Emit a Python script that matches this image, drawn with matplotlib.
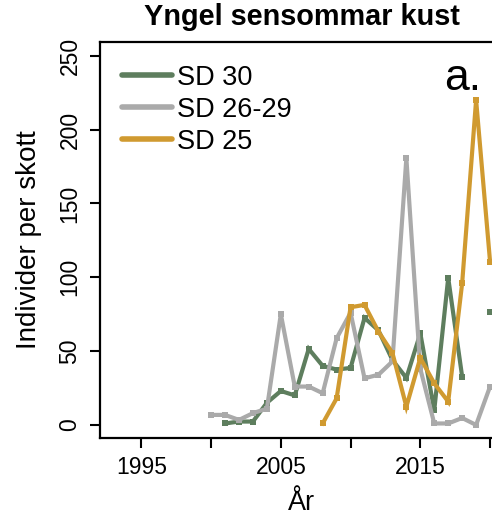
import matplotlib
matplotlib.use("Agg")
import matplotlib.pyplot as plt
import numpy as np

plt.rcParams['font.family'] = ['Liberation Sans', 'DejaVu Sans']

years_sd30 = [2001, 2002, 2003, 2004, 2005, 2006, 2007, 2008, 2009, 2010, 2011, 2012,
              2013, 2014, 2015, 2016, 2017, 2018, 2019, 2020]
sd30 = [1, 2.3, 2.3, 15, 23, 20, 51.5, 40, 37.5, 38.6, 72.5, 64,
        44, 31.8, 62, 10, 99.6, 32.7, np.nan, 76.8]

years_sd2629 = [2000, 2001, 2002, 2003, 2004, 2005, 2006, 2007, 2008, 2009, 2010, 2011,
                2012, 2013, 2014, 2015, 2016, 2017, 2018, 2019, 2020]
sd2629 = [6.8, 6.8, 3.4, 8, 11, 75, 26, 26, 21.5, 58.7, 76, 31.6,
          34, 43, 180.7, 38, 1, 1, 4.7, 0, 26]

years_sd25 = [2008, 2009, 2010, 2011, 2012, 2013, 2014, 2015, 2016, 2017, 2018, 2019, 2020]
sd25 = [1, 18, 79.7, 81.3, 63.2, 48.8, 12.4, 45.4, 28.2, 15.8, 96, 220, 110.6]

labels = ["SD 30", "SD 26-29", "SD 25"]
colors = ["#5e7e5e", "#aaaaaa", "#d09a30"]

xticks = [1995, 2000, 2005, 2010, 2015, 2020]
xticklabels = ["1995", "", "2005", "", "2015", ""]
yticks = [0, 50, 100, 150, 200, 250]

W, H = 492, 518
fig = plt.figure(figsize=(W / 100, H / 100), dpi=100)
left, right, top, bottom = 99.5, 504, 41.7, 437.5
ax = fig.add_axes([left / W, (H - bottom) / H, (right - left) / W, (bottom - top) / H])

series = [(years_sd30, sd30), (years_sd2629, sd2629), (years_sd25, sd25)]
for (yrs, vals), lab, col in zip(series, labels, colors):
    ax.plot(yrs, vals, color=col, lw=3.0, marker='s', markersize=4.8,
            markeredgewidth=0, label=lab, solid_joinstyle='miter')

ax.set_xlim(1992.0, 2021.0)
ax.set_ylim(-8.5, 259.5)
ax.set_xticks(xticks)
ax.set_xticklabels(xticklabels, fontsize=16.5)
ax.set_yticks(yticks)
ax.set_yticklabels([str(v) for v in yticks], fontsize=16.5, rotation=90, va='center')
ax.tick_params(axis='both', direction='out', length=7, width=1.5, color='black', pad=6)
for s in ax.spines.values():
    s.set_linewidth(1.6)
    s.set_color('black')

ax.set_xlabel("År", fontsize=19.5, labelpad=8)
ax.set_ylabel("Individer per skott", fontsize=20, labelpad=12)
ax.set_title("Yngel sensommar kust", fontsize=20.8, fontweight='bold', pad=12)

# legend (drawn in axes coordinates)
leg_rows = [0.9158, 0.835, 0.7542]
for lab, col, yy in zip(labels, colors, leg_rows):
    ax.plot([0.0556, 0.179], [yy, yy], transform=ax.transAxes, color=col, lw=4,
            solid_capstyle='round', clip_on=False)
    ax.text(0.1916, yy, lab, transform=ax.transAxes, fontsize=19.5,
            ha='left', va='center_baseline')

ax.text(0.853, 0.908, "a.", transform=ax.transAxes, fontsize=32, ha='left', va='center')

fig.savefig("out.png", dpi=100)
